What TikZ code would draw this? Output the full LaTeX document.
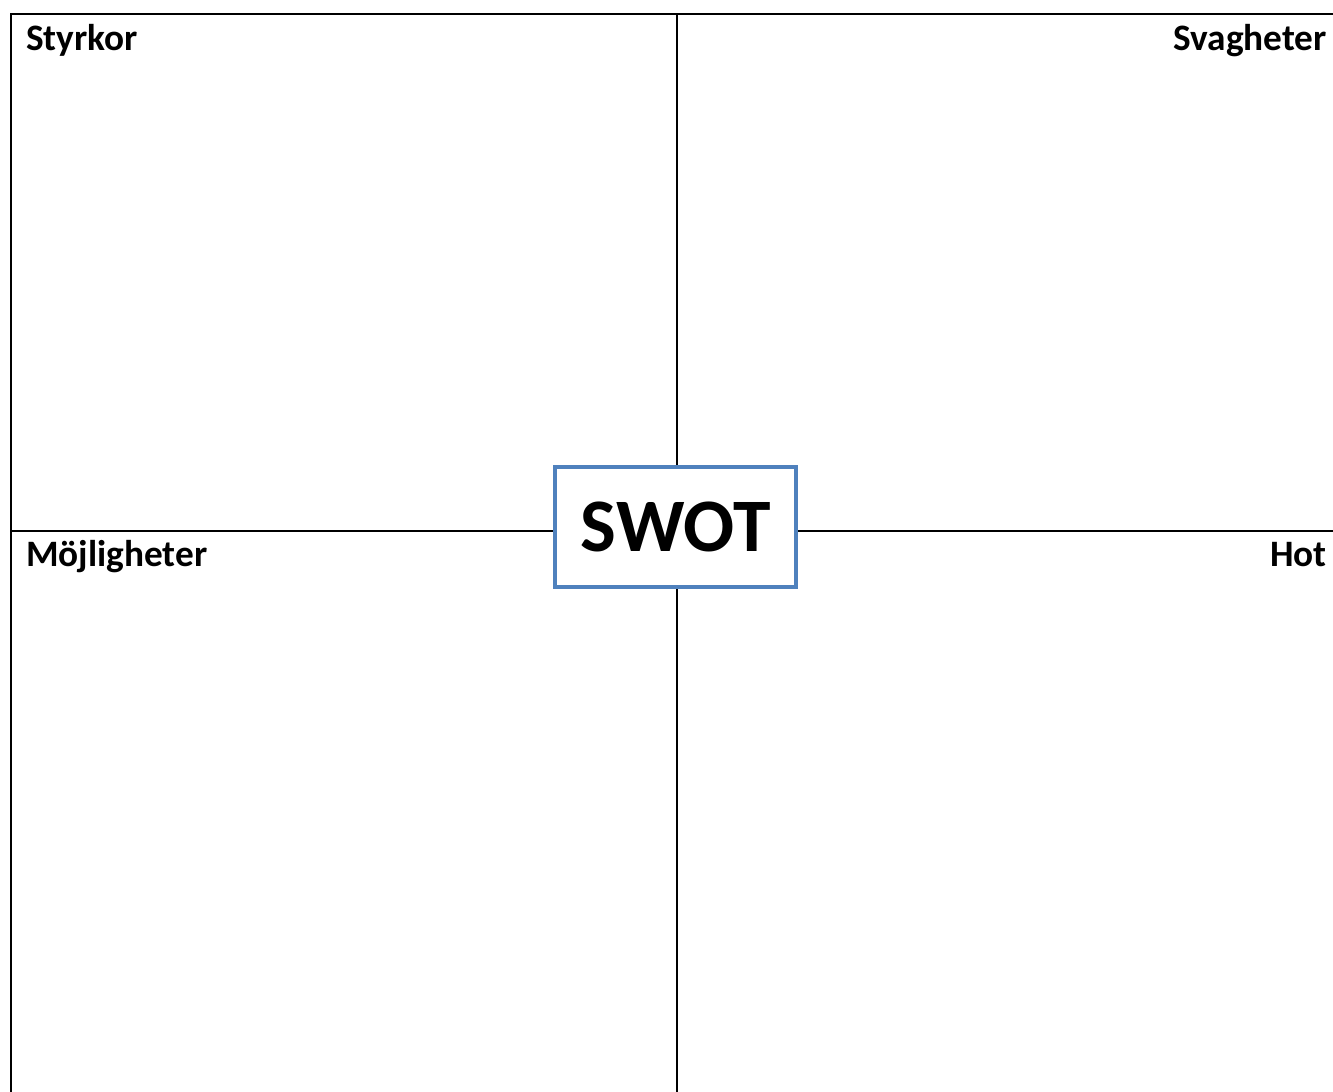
\documentclass[tikz,border=0pt]{standalone}
\usepackage{fontspec}
\setmainfont{Carlito}
\begin{document}
\begin{tikzpicture}[x=1pt,y=-1pt,
  gridline/.style={line width=2pt,black},
  quadlabel/.style={inner sep=0pt,font=\fontsize{37.3}{44}\selectfont\bfseries},
  swotbox/.style={draw=swotblue,line width=4pt,fill=white,minimum width=241.5pt,minimum height=120pt,inner sep=0pt,font=\fontsize{75.6}{88}\selectfont\bfseries}]
\definecolor{swotblue}{HTML}{4F81BD}
\useasboundingbox (0,0) rectangle (1333,1092);
\coordinate (tl) at (11,14);
\coordinate (tr) at (1333,14);
\coordinate (bl) at (11,1092);
\coordinate (tm) at (677,14);
\coordinate (bm) at (677,1092);
\coordinate (ml) at (11,531);
\coordinate (mr) at (1333,531);
\draw[gridline] (tr) -- (tl) -- (bl);
\draw[gridline] (tm) -- (bm);
\draw[gridline] (ml) -- (mr);
\node[quadlabel,anchor=base west] (s) at (26,50) {Styrkor};
\node[quadlabel,anchor=base east] (w) at (1327,50) {Svagheter};
\node[quadlabel,anchor=base west] (o) at (26,566) {Möjligheter};
\node[quadlabel,anchor=base east] (t) at (1327,566) {Hot};
\node[swotbox] (swot) at (675.7,527) {SWOT};
\end{tikzpicture}
\end{document}
